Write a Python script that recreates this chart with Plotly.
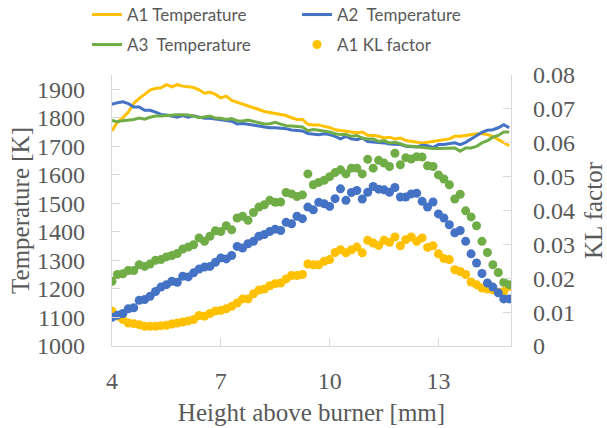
import plotly.graph_objects as go

# Height above burner [mm]
x = [4.0, 4.15, 4.3, 4.45, 4.6, 4.75, 4.9, 5.05, 5.2, 5.35, 5.5, 5.65, 5.8, 5.95, 6.1, 6.25,
     6.4, 6.55, 6.7, 6.85, 7.0, 7.15, 7.3, 7.45, 7.6, 7.75, 7.9, 8.05, 8.2, 8.35, 8.5, 8.65,
     8.8, 8.95, 9.1, 9.25, 9.4, 9.55, 9.7, 9.85, 10.0, 10.15, 10.3, 10.45, 10.6, 10.75, 10.9,
     11.05, 11.2, 11.35, 11.5, 11.65, 11.8, 11.95, 12.1, 12.25, 12.4, 12.55, 12.7, 12.85, 13.0,
     13.15, 13.3, 13.45, 13.6, 13.75, 13.9, 14.05, 14.2, 14.35, 14.5, 14.65, 14.8, 14.95]

a1_temp = [1754, 1785, 1800, 1820, 1850, 1868, 1882, 1897, 1903, 1905, 1916, 1908, 1916, 1911,
           1909, 1906, 1898, 1886, 1890, 1882, 1870, 1876, 1861, 1855, 1849, 1841, 1835, 1829,
           1822, 1818, 1816, 1812, 1808, 1800, 1794, 1794, 1777, 1775, 1775, 1770, 1766, 1758,
           1756, 1754, 1750, 1748, 1750, 1739, 1738, 1735, 1729, 1732, 1726, 1729, 1720, 1717,
           1716, 1712, 1714, 1717, 1720, 1723, 1726, 1735, 1735, 1738, 1741, 1744, 1744, 1741,
           1735, 1723, 1712, 1702]

a2_temp = [1847, 1853, 1856, 1850, 1838, 1838, 1826, 1826, 1820, 1812, 1810, 1806, 1802, 1808,
           1802, 1807, 1803, 1798, 1798, 1796, 1793, 1792, 1788, 1778, 1780, 1777, 1775, 1771,
           1768, 1765, 1765, 1763, 1762, 1757, 1756, 1754, 1745, 1744, 1741, 1744, 1741, 1735,
           1726, 1735, 1726, 1723, 1729, 1717, 1715, 1715, 1712, 1708, 1708, 1706, 1700, 1698,
           1698, 1704, 1702, 1696, 1706, 1706, 1708, 1712, 1706, 1714, 1726, 1738, 1749, 1756,
           1758, 1765, 1776, 1765]

a3_temp = [1791, 1786, 1790, 1791, 1794, 1799, 1795, 1802, 1806, 1806, 1808, 1809, 1811, 1811,
           1810, 1806, 1800, 1803, 1806, 1799, 1798, 1794, 1797, 1790, 1789, 1792, 1788, 1784,
           1778, 1779, 1784, 1778, 1772, 1771, 1770, 1768, 1755, 1759, 1756, 1753, 1750, 1744,
           1741, 1741, 1735, 1738, 1729, 1726, 1726, 1717, 1720, 1712, 1714, 1709, 1702, 1700,
           1698, 1694, 1694, 1692, 1692, 1692, 1692, 1694, 1683, 1694, 1694, 1700, 1712, 1720,
           1732, 1738, 1750, 1750]

a1_kl = [0.0103, 0.0088, 0.0078, 0.0068, 0.0066, 0.0063, 0.0058, 0.0058, 0.0058, 0.0060,
         0.0061, 0.0065, 0.0068, 0.0071, 0.0074, 0.0078, 0.0090, 0.0088, 0.0096, 0.0103,
         0.0105, 0.0110, 0.0117, 0.0127, 0.0139, 0.0139, 0.0154, 0.0165, 0.0168, 0.0178,
         0.0184, 0.0186, 0.0198, 0.0208, 0.0208, 0.0211, 0.0242, 0.0240, 0.0240, 0.0250,
         0.0255, 0.0276, 0.0284, 0.0275, 0.0284, 0.0292, 0.0275, 0.0312, 0.0304, 0.0297,
         0.0312, 0.0306, 0.0322, 0.0296, 0.0314, 0.0322, 0.0309, 0.0319, 0.0291, 0.0296,
         0.0272, 0.0258, 0.0255, 0.0225, 0.0220, 0.0211, 0.0189, 0.0181, 0.0171, 0.0168,
         0.0166, 0.0159, 0.0161, 0.0176]

a2_kl = [0.0085, 0.0091, 0.0096, 0.0110, 0.0113, 0.0135, 0.0137, 0.0147, 0.0161, 0.0174,
         0.0181, 0.0191, 0.0188, 0.0206, 0.0204, 0.0216, 0.0227, 0.0233, 0.0235, 0.0247,
         0.0260, 0.0257, 0.0267, 0.0294, 0.0289, 0.0302, 0.0309, 0.0324, 0.0329, 0.0338,
         0.0345, 0.0341, 0.0365, 0.0361, 0.0383, 0.0376, 0.0410, 0.0402, 0.0424, 0.0420,
         0.0412, 0.0435, 0.0464, 0.0430, 0.0453, 0.0459, 0.0434, 0.0454, 0.0471, 0.0463,
         0.0461, 0.0454, 0.0468, 0.0440, 0.0440, 0.0449, 0.0451, 0.0427, 0.0410, 0.0425,
         0.0390, 0.0378, 0.0358, 0.0334, 0.0341, 0.0309, 0.0272, 0.0245, 0.0214, 0.0186,
         0.0174, 0.0157, 0.0139, 0.0139]

a3_kl = [0.0191, 0.0211, 0.0213, 0.0223, 0.0223, 0.0240, 0.0235, 0.0242, 0.0253, 0.0255,
         0.0263, 0.0267, 0.0273, 0.0286, 0.0292, 0.0299, 0.0319, 0.0309, 0.0324, 0.0340,
         0.0338, 0.0355, 0.0343, 0.0378, 0.0383, 0.0371, 0.0394, 0.0410, 0.0417, 0.0430,
         0.0424, 0.0425, 0.0453, 0.0449, 0.0441, 0.0446, 0.0508, 0.0476, 0.0483, 0.0489,
         0.0500, 0.0512, 0.0520, 0.0508, 0.0525, 0.0525, 0.0508, 0.0551, 0.0525, 0.0548,
         0.0540, 0.0530, 0.0569, 0.0535, 0.0556, 0.0552, 0.0559, 0.0558, 0.0532, 0.0530,
         0.0505, 0.0493, 0.0476, 0.0434, 0.0448, 0.0399, 0.0381, 0.0355, 0.0309, 0.0276,
         0.0240, 0.0217, 0.0188, 0.0181]

x_ticks = [4, 7, 10, 13]
t_ticks = [1000, 1100, 1200, 1300, 1400, 1500, 1600, 1700, 1800, 1900]
kl_ticks = [0, 0.01, 0.02, 0.03, 0.04, 0.05, 0.06, 0.07, 0.08]
kl_labels = ["0", "0.01", "0.02", "0.03", "0.04", "0.05", "0.06", "0.07", "0.08"]

YELLOW = "#FFC000"
BLUE = "#4472C4"
GREEN = "#70AD47"
GREY = "#595959"
AXIS = "#D9D9D9"
SERIF = "Liberation Serif, Times New Roman, serif"

W, H = 607, 428
ML, MR, MT, MB = 112, 96, 75, 82
PW, PH = W - ML - MR, H - MT - MB


def px_to_paper(px, py):
    return (px - ML) / PW, (H - MB - py) / PH


fig = go.Figure()
fig.add_trace(go.Scatter(x=x, y=a1_temp, mode="lines", name="A1 Temperature",
                         line=dict(color=YELLOW, width=3), legend="legend"))
fig.add_trace(go.Scatter(x=x, y=a2_temp, mode="lines", name="A2\u00a0 Temperature",
                         line=dict(color=BLUE, width=3), legend="legend2"))
fig.add_trace(go.Scatter(x=x, y=a3_temp, mode="lines", name="A3\u00a0 Temperature",
                         line=dict(color=GREEN, width=3), legend="legend3"))
fig.add_trace(go.Scatter(x=x, y=a1_kl, mode="markers", name="A1 KL factor", yaxis="y2",
                         marker=dict(color=YELLOW, size=9), legend="legend4"))
fig.add_trace(go.Scatter(x=x, y=a2_kl, mode="markers", name="A2 KL factor", yaxis="y2",
                         marker=dict(color=BLUE, size=9), showlegend=False))
fig.add_trace(go.Scatter(x=x, y=a3_kl, mode="markers", name="A3 KL factor", yaxis="y2",
                         marker=dict(color=GREEN, size=9), showlegend=False))


def leg(px, py):
    lx, ly = px_to_paper(px, py)
    return dict(x=lx, y=ly, xref="paper", yref="paper", xanchor="left", yanchor="middle",
                orientation="h", itemwidth=30, bgcolor="rgba(0,0,0,0)",
                font=dict(family="Lato, Liberation Sans, sans-serif", size=17, color=GREY))


axis_font = dict(family=SERIF, size=24, color=GREY)

fig.update_layout(
    width=W, height=H,
    margin=dict(l=ML, r=MR, t=MT, b=MB, pad=0, autoexpand=False),
    paper_bgcolor="white", plot_bgcolor="white",
    showlegend=True,
    legend=leg(87, 15),
    legend2=leg(297, 15),
    legend3=leg(87, 45),
    legend4=leg(297, 45),
    xaxis=dict(range=[4, 15], tickvals=x_ticks, ticks="inside", ticklen=8, tickcolor=AXIS,
               showline=True, linecolor=AXIS, linewidth=1.3, showgrid=False, zeroline=False,
               ticklabelstandoff=13, tickfont=axis_font,
               title=dict(text="Height above burner [mm]", standoff=10,
                          font=dict(family=SERIF, size=25, color=GREY))),
    yaxis=dict(range=[1000, 1950], tickvals=t_ticks, ticks="inside", ticklen=8, tickcolor=AXIS,
               showline=True, linecolor=AXIS, linewidth=1.3, showgrid=False, zeroline=False,
               ticklabelstandoff=21, tickfont=axis_font,
               title=dict(text="Temperature [K]", standoff=0,
                          font=dict(family=SERIF, size=25, color=GREY))),
    yaxis2=dict(range=[0, 0.08], tickvals=kl_ticks, ticktext=kl_labels, overlaying="y",
                side="right", ticks="inside", ticklen=8, tickcolor=AXIS,
                showline=True, linecolor=AXIS, linewidth=1.3, showgrid=False, zeroline=False,
                ticklabelstandoff=16, tickfont=axis_font,
                title=dict(text="KL factor", standoff=14,
                           font=dict(family=SERIF, size=25, color=GREY))),
)

fig.write_html("out.html", config={"displayModeBar": False},
               post_script="document.body.style.margin='0px';")
